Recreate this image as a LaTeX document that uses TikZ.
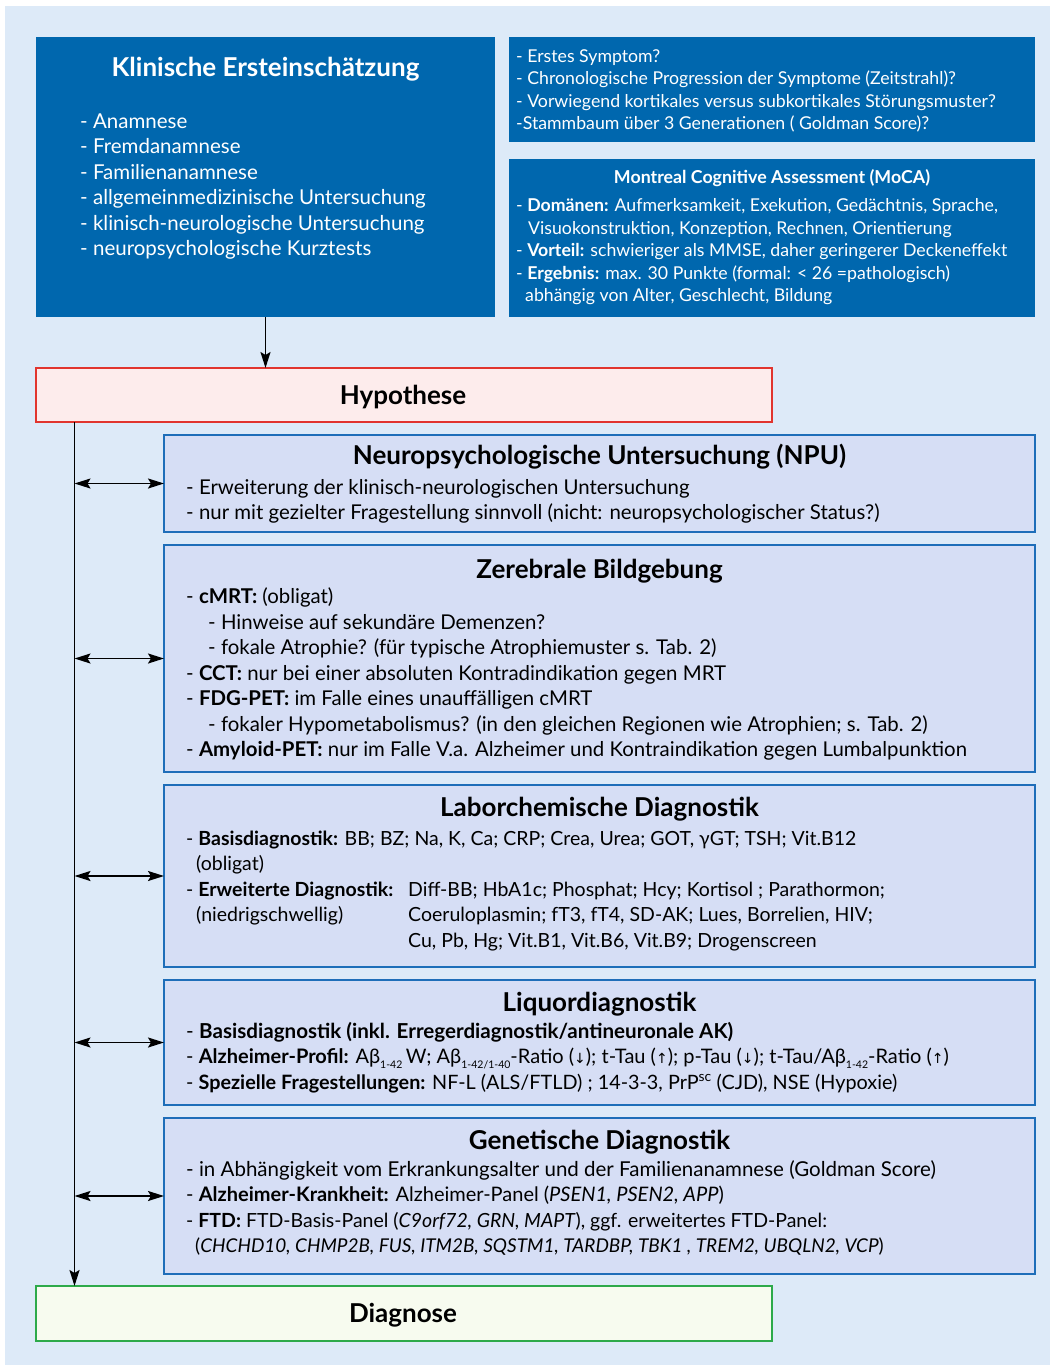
\documentclass[tikz,border=0pt]{standalone}
\usepackage{fontspec}
\setmainfont{Lato}
\newfontfamily\symf{DejaVu Sans}
\usetikzlibrary{arrows.meta}
\definecolor{bgc}{HTML}{DDEAF8}
\definecolor{dkb}{HTML}{0067AE}
\definecolor{lbf}{HTML}{D6DEF5}
\definecolor{lbd}{HTML}{1E6EB9}
\definecolor{hyf}{HTML}{FDECEC}
\definecolor{hyd}{HTML}{E1352E}
\definecolor{dgf}{HTML}{F7FBEF}
\definecolor{dgd}{HTML}{2DAA4A}
\newcommand\lsub[1]{\raisebox{-0.5ex}{\fontsize{10.5}{11}\selectfont #1}}
\newcommand\arw[1]{{\symf\fontsize{14}{14}\selectfont #1}}
\newcommand\fs[1]{\fontsize{#1}{24}\selectfont}
\tikzset{
  boxbase/.style={anchor=north west, inner sep=0pt, outer sep=0pt},
  darkbox/.style={boxbase, fill=dkb, draw=none},
  lightbox/.style={boxbase, fill=lbf, draw=lbd, line width=2pt},
  hypbox/.style={boxbase, fill=hyf, draw=hyd, line width=2pt},
  diabox/.style={boxbase, fill=dgf, draw=dgd, line width=2pt},
  ln/.style={anchor=base west, inner sep=0pt, font=\fs{20.4}},
  lnw/.style={ln, text=white, font=\fs{20.5}},
  lns/.style={anchor=base west, inner sep=0pt, text=white, font=\fs{17.7}},
  ttl/.style={anchor=base, inner sep=0pt, font=\bfseries\fs{26}},
  arr/.style={line width=1.8pt, -{Stealth[length=16pt,width=10pt,inset=3pt]}},
  darr/.style={line width=1.8pt, {Stealth[length=16pt,width=10pt,inset=3pt]}-{Stealth[length=16pt,width=10pt,inset=3pt]}}
}
\begin{document}
\begin{tikzpicture}[x=1pt,y=-1pt]
\useasboundingbox (0,0) rectangle (1050,1365);
\fill[bgc] (5,6) rectangle (1050,1365);

% top boxes
\node[darkbox, minimum width=459pt, minimum height=280pt] (kl) at (36,37) {};
\node[darkbox, minimum width=526pt, minimum height=105pt] (fr) at (509,37) {};
\node[darkbox, minimum width=526pt, minimum height=158pt] (moca) at (509,159) {};

\node[anchor=base, inner sep=0pt, text=white, font=\bfseries\fs{26}] (klT) at (265.5,76) {Klinische Ersteinschätzung};
\node[lnw] (kl1) at (80,128) {- Anamnese};
\node[lnw] (kl2) at (80,153.5) {- Fremdanamnese};
\node[lnw] (kl3) at (80,179) {- Familienanamnese};
\node[lnw] (kl4) at (80,204.5) {- allgemeinmedizinische Untersuchung};
\node[lnw] (kl5) at (80,230) {- klinisch-neurologische Untersuchung};
\node[lnw] (kl6) at (80,255.5) {- neuropsychologische Kurztests};

\node[lns] (fr1) at (516,62) {- Erstes Symptom?};
\node[lns] (fr2) at (516,84.5) {- Chronologische Progression der Symptome (Zeitstrahl)?};
\node[lns] (fr3) at (516,107) {- Vorwiegend kortikales versus subkortikales Störungsmuster?};
\node[lns] (fr4) at (516,129.5) {-Stammbaum über 3 Generationen ( Goldman Score)?};

\node[anchor=base, inner sep=0pt, text=white, font=\bfseries\fs{17.8}] (mocaT) at (772,183) {Montreal Cognitive Assessment (MoCA)};
\node[lns] (mo1) at (516,211.5) {- \textbf{Domänen:} Aufmerksamkeit, Exekution, Gedächtnis, Sprache,};
\node[lns] (mo2) at (528,234) {Visuokonstruktion, Konzeption, Rechnen, Orientierung};
\node[lns] (mo3) at (516,256.5) {- \textbf{Vorteil:} schwieriger als MMSE, daher geringerer Deckeneffekt};
\node[lns] (mo4) at (516,279) {- \textbf{Ergebnis:} max. 30 Punkte (formal: < 26 =pathologisch)};
\node[lns] (mo5) at (525,301) {abhängig von Alter, Geschlecht, Bildung};

% Hypothese
\node[hypbox, minimum width=736pt, minimum height=54pt] (hyp) at (36,368) {};
\node[ttl] (hypT) at (403,404) {Hypothese};

% NPU
\node[lightbox, minimum width=871pt, minimum height=97pt] (npu) at (164,435) {};
\node[ttl] (npuT) at (599.5,464) {Neuropsychologische Untersuchung (NPU)};
\node[ln] (npu1) at (186,494) {- Erweiterung der klinisch-neurologischen Untersuchung};
\node[ln] (npu2) at (186,519.5) {- nur mit gezielter Fragestellung sinnvoll (nicht: neuropsychologischer Status?)};

% Zerebrale Bildgebung
\node[lightbox, minimum width=871pt, minimum height=227pt] (zb) at (164,545) {};
\node[ttl] (zbT) at (599.5,578) {Zerebrale Bildgebung};
\node[ln] (zb1) at (186,603) {- \textbf{cMRT:} (obligat)};
\node[ln] (zb2) at (208,629) {- Hinweise auf sekundäre Demenzen?};
\node[ln] (zb3) at (208,654.5) {- fokale Atrophie? (für typische Atrophiemuster s. Tab. 2)};
\node[ln] (zb4) at (186,680) {- \textbf{CCT:} nur bei einer absoluten Kontradindikation gegen MRT};
\node[ln] (zb5) at (186,705.5) {- \textbf{FDG-PET:} im Falle eines unauffälligen cMRT};
\node[ln] (zb6) at (208,731) {- fokaler Hypometabolismus? (in den gleichen Regionen wie Atrophien; s. Tab. 2)};
\node[ln] (zb7) at (186,756.5) {- \textbf{Amyloid-PET:} nur im Falle V.a. Alzheimer und Kontraindikation gegen Lumbalpunktion};

% Labor
\node[lightbox, minimum width=871pt, minimum height=182pt] (lab) at (164,785) {};
\node[ttl] (labT) at (599.5,816) {Laborchemische Diagnostik};
\node[ln, font=\fs{19.5}] (lab1) at (186,845) {- \textbf{Basisdiagnostik:} BB; BZ; Na, K, Ca; CRP; Crea, Urea; GOT, γGT; TSH; Vit.B12};
\node[ln, font=\fs{19.5}] (lab2) at (196,870.5) {(obligat)};
\node[ln, font=\fs{19.5}] (lab3) at (186,896) {- \textbf{Erweiterte Diagnostik:}};
\node[ln, font=\fs{19.5}] (lab3b) at (408,896) {Diff-BB; HbA1c; Phosphat; Hcy; Kortisol ; Parathormon;};
\node[ln, font=\fs{19.5}] (lab4) at (196,921.5) {(niedrigschwellig)};
\node[ln, font=\fs{19.5}] (lab4b) at (408,921.5) {Coeruloplasmin; fT3, fT4, SD-AK; Lues, Borrelien, HIV;};
\node[ln, font=\fs{19.5}] (lab5b) at (408,947) {Cu, Pb, Hg; Vit.B1, Vit.B6, Vit.B9; Drogenscreen};

% Liquor
\node[lightbox, minimum width=871pt, minimum height=125pt] (liq) at (164,980) {};
\node[ttl] (liqT) at (599.5,1011) {Liquordiagnostik};
\node[ln, font=\fs{20.6}] (liq1) at (186,1038) {- \textbf{Basisdiagnostik (inkl. Erregerdiagnostik/antineuronale AK)}};
\node[ln, font=\fs{20}] (liq2) at (186,1063.5) {- \textbf{Alzheimer-Profil:} Aβ\lsub{1-42}\,W; Aβ\lsub{1-42/1-40}-Ratio (\arw{↓}); t-Tau (\arw{↑}); p-Tau (\arw{↓}); t-Tau/Aβ\lsub{1-42}-Ratio (\arw{↑})};
\node[ln, font=\fs{19.8}] (liq3) at (186,1089) {- \textbf{Spezielle Fragestellungen:} NF-L (ALS/FTLD) ; 14-3-3, PrP\textsuperscript{sc} (CJD), NSE (Hypoxie)};

% Genetik
\node[lightbox, minimum width=871pt, minimum height=156pt] (gen) at (164,1118) {};
\node[ttl] (genT) at (599.5,1149) {Genetische Diagnostik};
\node[ln, font=\fs{20.5}] (gen1) at (186,1176) {- in Abhängigkeit vom Erkrankungsalter und der Familienanamnese (Goldman Score)};
\node[ln, font=\fs{20}] (gen2) at (186,1201.5) {- \textbf{Alzheimer-Krankheit:} Alzheimer-Panel (\textit{PSEN1, PSEN2, APP})};
\node[ln, font=\fs{19.5}] (gen3) at (186,1227) {- \textbf{FTD:} FTD-Basis-Panel (\textit{C9orf72, GRN, MAPT}), ggf. erweitertes FTD-Panel:};
\node[ln, font=\fs{19}] (gen4) at (195,1252.5) {(\textit{CHCHD10, CHMP2B, FUS, ITM2B, SQSTM1, TARDBP, TBK1 , TREM2, UBQLN2, VCP})};

% Diagnose
\node[diabox, minimum width=736pt, minimum height=55pt] (dia) at (36,1286) {};
\node[ttl] (diaT) at (403,1322) {Diagnose};

% connectors
\coordinate (vx) at (74.5,0);
\draw[arr] (kl.south) -- (kl.south |- hyp.north);
\draw[arr] (hyp.south -| vx) -- (dia.north -| vx);
\draw[darr] (npu.west -| vx) -- (npu.west);
\draw[darr] (zb.west -| vx) -- (zb.west);
\draw[darr] (lab.west -| vx) -- (lab.west);
\draw[darr] (liq.west -| vx) -- (liq.west);
\draw[darr] (gen.west -| vx) -- (gen.west);
\end{tikzpicture}
\end{document}
